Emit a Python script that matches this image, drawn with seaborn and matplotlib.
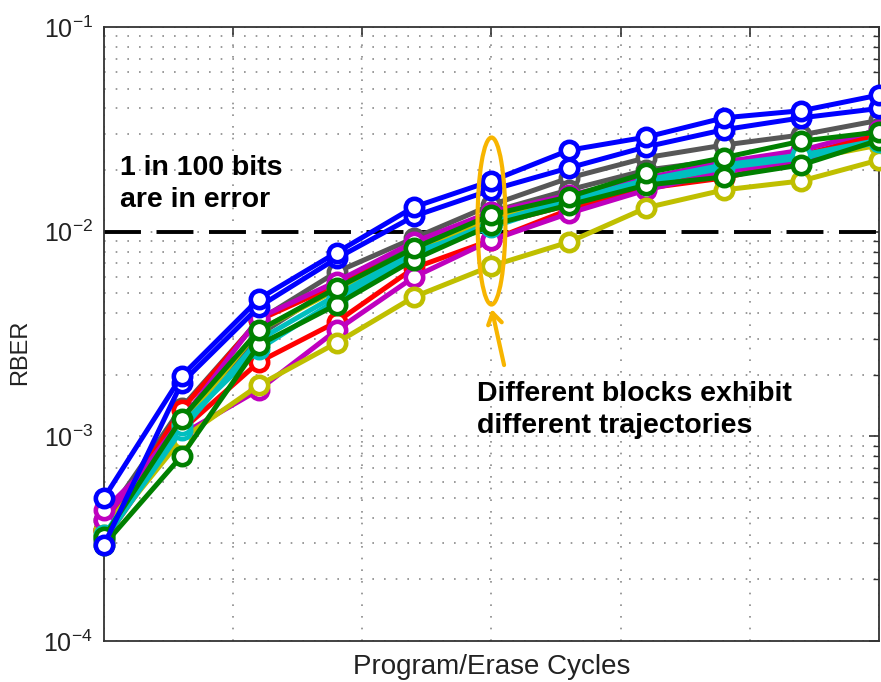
import numpy as np
import pandas as pd
import matplotlib
matplotlib.use("Agg")
import matplotlib.pyplot as plt
import seaborn as sns
from matplotlib.patches import Ellipse
from matplotlib.ticker import LogLocator, NullFormatter, MultipleLocator, LogFormatterSciNotation

# ---------------- data ----------------
cycles = [0, 600, 1200, 1800, 2400, 3000, 3600, 4200, 4800, 5400, 6000]

blue_1 = [5.0e-4, 1.97e-3, 4.7e-3, 7.9e-3, 1.32e-2, 1.77e-2, 2.5e-2, 2.9e-2, 3.6e-2, 3.9e-2, 4.65e-2]
blue_2 = [2.95e-4, 1.82e-3, 4.3e-3, 7.4e-3, 1.19e-2, 1.6e-2, 2.05e-2, 2.6e-2, 3.15e-2, 3.6e-2, 4.0e-2]
gray_1 = [3.9e-4, 1.38e-3, 3.7e-3, 6.35e-3, 9.3e-3, 1.35e-2, 1.83e-2, 2.3e-2, 2.65e-2, 2.97e-2, 3.5e-2]
gray_2 = [3.5e-4, 1.2e-3, 3.13e-3, 5.5e-3, 8.6e-3, 1.25e-2, 1.6e-2, 2.0e-2, 2.24e-2, 2.24e-2, 3.2e-2]
green_1 = [3.22e-4, 1.22e-3, 3.3e-3, 5.3e-3, 8.3e-3, 1.21e-2, 1.48e-2, 1.94e-2, 2.3e-2, 2.77e-2, 3.07e-2]
green_2 = [2.95e-4, 8.0e-4, 2.8e-3, 4.4e-3, 7.3e-3, 1.08e-2, 1.35e-2, 1.69e-2, 1.85e-2, 2.12e-2, 2.8e-2]
cyan_1 = [3.3e-4, 1.14e-3, 2.67e-3, 4.64e-3, 7.7e-3, 1.11e-2, 1.43e-2, 1.79e-2, 2.12e-2, 2.37e-2, 2.8e-2]
cyan_2 = [3.1e-4, 1.07e-3, 2.96e-3, 4.9e-3, 7.96e-3, 1.05e-2, 1.4e-2, 1.73e-2, 2.05e-2, 2.29e-2, 2.74e-2]
red_1 = [3.5e-4, 1.35e-3, 3.7e-3, 5.5e-3, 8.1e-3, 1.08e-2, 1.35e-2, 1.69e-2, 2.0e-2, 2.37e-2, 2.97e-2]
red_2 = [3.1e-4, 1.07e-3, 2.31e-3, 3.62e-3, 6.65e-3, 9.1e-3, 1.28e-2, 1.63e-2, 1.83e-2, 2.24e-2, 2.8e-2]
magenta_1 = [4.36e-4, 1.02e-3, 1.69e-3, 3.3e-3, 6.0e-3, 9.1e-3, 1.23e-2, 1.6e-2, 1.96e-2, 2.24e-2, 2.8e-2]
magenta_2 = [3.9e-4, 1.2e-3, 3.79e-3, 5.7e-3, 8.9e-3, 1.25e-2, 1.51e-2, 1.83e-2, 2.19e-2, 2.5e-2, 3.14e-2]
yellow_1 = [3.3e-4, 9.7e-4, 1.78e-3, 2.86e-3, 4.8e-3, 6.8e-3, 8.9e-3, 1.31e-2, 1.6e-2, 1.77e-2, 2.24e-2]
yellow_2 = [3.5e-4, 1.14e-3, 3.3e-3, 5.2e-3, 8.1e-3, 1.17e-2, 1.46e-2, 1.79e-2, 2.05e-2, 2.24e-2, 2.65e-2]

threshold = 1e-2

# ---------------- style ----------------
sns.set_style("white")
plt.rcParams["font.family"] = ["Liberation Sans", "DejaVu Sans"]
plt.rcParams["mathtext.fontset"] = "custom"
plt.rcParams["mathtext.rm"] = "Liberation Sans"
plt.rcParams["mathtext.it"] = "Liberation Sans:italic"
plt.rcParams["mathtext.bf"] = "Liberation Sans:bold"

GRAY = "#575757"
GREEN = "#008000"
RED = "#ff0000"
CYAN = "#00bfbf"
MAGENTA = "#bf00bf"
YELLOW = "#bfbf00"
BLUE = "#0000ff"

series = [
    ("gray_1", gray_1, GRAY), ("gray_2", gray_2, GRAY),
    ("red_1", red_1, RED), ("red_2", red_2, RED),
    ("yellow_2", yellow_2, YELLOW),
    ("magenta_2", magenta_2, MAGENTA), ("magenta_1", magenta_1, MAGENTA),
    ("yellow_1", yellow_1, YELLOW),
    ("cyan_2", cyan_2, CYAN), ("cyan_1", cyan_1, CYAN),
    ("green_2", green_2, GREEN), ("green_1", green_1, GREEN),
    ("blue_2", blue_2, BLUE), ("blue_1", blue_1, BLUE),
]

fig = plt.figure(figsize=(8.81, 6.82), dpi=100)
ax = fig.add_axes([104 / 881, 41 / 682, 775 / 881, 614 / 682])

ax.set_yscale("log")
ax.set_xlim(0, 6000)
ax.set_ylim(1e-4, 1e-1)

# grid
ax.xaxis.set_major_locator(MultipleLocator(1000))
ax.yaxis.set_major_locator(LogLocator(base=10, numticks=10))
ax.yaxis.set_minor_locator(LogLocator(base=10, subs=np.arange(2, 10), numticks=20))
ax.yaxis.set_minor_formatter(NullFormatter())
ax.yaxis.set_major_formatter(LogFormatterSciNotation())
grid_kw = dict(color="#8a8a8a", linestyle=(0, (1, 6)), linewidth=1.2)
ax.grid(True, which="major", axis="both", **grid_kw)
ax.grid(True, which="minor", axis="y", **grid_kw)
ax.set_axisbelow(True)

# threshold line
ax.axhline(threshold, color="black", linestyle=(0, (9.5, 4)), linewidth=2.8, zorder=1.5)

for name, vals, col in series:
    df = pd.DataFrame({"cycles": cycles, "rber": vals})
    sns.lineplot(data=df, x="cycles", y="rber", ax=ax, color=col, linewidth=3.6,
                 marker="o", markersize=12.5, markerfacecolor="white",
                 markeredgecolor=col, markeredgewidth=3.3, clip_on=False,
                 legend=False, zorder=3)

ax.set_xticklabels([])
ax.tick_params(axis="both", which="major", direction="in", length=7, width=1.2,
               top=True, right=True, labelsize=18, pad=8, colors="#333333",
               labelcolor="#222222")
ax.tick_params(axis="y", which="minor", direction="in", length=4, width=1.0,
               right=True, colors="#333333")
ax.tick_params(axis="x", which="minor", bottom=False, top=False)
for s in ax.spines.values():
    s.set_color("#333333")
    s.set_linewidth(1.3)

ax.set_xlabel("Program/Erase Cycles", fontsize=20, color="#222222", labelpad=1)
ax.set_ylabel("RBER", fontsize=17, color="#222222")
ax.yaxis.set_label_coords(-0.094, 0.47)

# annotations
ax.text(0.021, 0.792, "1 in 100 bits\nare in error", transform=ax.transAxes,
        fontsize=20.5, fontweight="bold", va="top", ha="left", linespacing=1.33,
        color="black")
ax.text(0.481, 0.424, "Different blocks exhibit\ndifferent trajectories",
        transform=ax.transAxes, fontsize=20.5, fontweight="bold", va="top",
        ha="left", linespacing=1.33, color="black")

ORANGE = "#f7b500"
ell = Ellipse((0.500, 0.684), width=0.036, height=0.272, transform=ax.transAxes,
              fill=False, edgecolor=ORANGE, linewidth=3, zorder=6, clip_on=False)
ax.add_patch(ell)
ax.annotate("", xy=(0.4995, 0.545), xytext=(0.517, 0.445),
            xycoords="axes fraction", textcoords="axes fraction",
            arrowprops=dict(arrowstyle="->,head_length=0.8,head_width=0.5",
                            color=ORANGE, lw=3), zorder=6)

fig.savefig("out.png", dpi=100)
